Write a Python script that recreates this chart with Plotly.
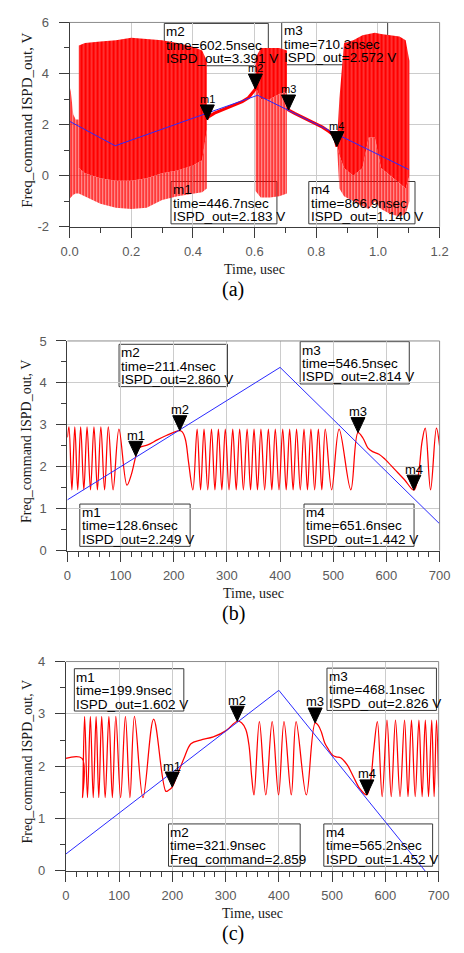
import plotly.graph_objects as go

W, H = 464, 953

# ---------------- panel (a): 0 .. 1.2 usec ----------------
a_cmd_t = [0.0, 0.148, 0.61, 1.10]
a_cmd_v = [2.13, 1.17, 3.15, 0.24]

# ISPD_out bursts: upper edge, edge of the solid part, lower edge of the spikes
a_s_t = [0.0, 0.004, 0.012, 0.02, 0.03]
a_s_hi = [3.5, 3.3, 2.4, 2.2, 2.2]
a_s_lo = [-0.9, -0.85, -0.75, -0.7, -0.7]

a_b1_t = [0.03, 0.05, 0.10, 0.15, 0.20, 0.25, 0.30, 0.35, 0.40, 0.43, 0.445]
a_b1_hi = [5.1, 5.2, 5.25, 5.3, 5.4, 5.35, 5.3, 5.2, 5.05, 4.9, 4.5]
a_b1_mid = [0.3, 0.1, -0.1, -0.2, -0.2, -0.1, 0.1, 0.2, 0.4, 0.6, 1.8]
a_b1_lo = [-0.7, -0.8, -1.1, -1.25, -1.3, -1.25, -0.95, -0.8, -0.7, -0.65, -0.5]

a_b2_t = [0.603, 0.62, 0.65, 0.68, 0.705]
a_b2_hi = [4.6, 5.0, 5.0, 5.0, 4.9]
a_b2_mid = [3.5, 3.0, 3.0, 3.2, 3.3]
a_b2_lo = [-0.6, -0.85, -0.85, -0.8, -0.7]

a_b3_t = [0.868, 0.875, 0.89, 0.92, 0.95, 0.97, 0.99, 1.01, 1.04, 1.07, 1.09, 1.102]
a_b3_hi = [1.5, 3.0, 5.2, 5.3, 5.5, 5.55, 5.6, 5.55, 5.5, 5.45, 5.3, 4.5]
a_b3_mid = [1.2, 0.8, 0.3, 0.0, 0.3, 1.5, 1.5, 0.3, 0.0, -0.3, -0.5, 0.0]
a_b3_lo = [1.0, -0.5, -0.8, -1.0, -1.2, -1.3, -1.0, -1.3, -1.5, -1.6, -1.5, -1.0]

# locked stretches of ISPD_out
a_l1_t = [0.445, 0.45, 0.47, 0.50, 0.53, 0.56, 0.58, 0.59, 0.60, 0.6025, 0.605]
a_l1_v = [2.2, 2.3, 2.45, 2.6, 2.75, 2.9, 3.05, 3.2, 3.35, 3.39, 3.5]
a_l2_t = [0.705, 0.7103, 0.73, 0.75, 0.78, 0.80, 0.82, 0.84, 0.855, 0.862, 0.8669]
a_l2_v = [2.65, 2.57, 2.44, 2.32, 2.15, 2.03, 1.9, 1.74, 1.6, 1.4, 1.14]

a_mk_name = ["m1", "m2", "m3", "m4"]
a_mk_t = [0.4467, 0.6025, 0.7103, 0.8669]
a_mk_v = [2.183, 3.391, 2.572, 1.140]
a_box_lines = [
    ["m1", "time=446.7nsec", "ISPD_out=2.183 V"],
    ["m2", "time=602.5nsec", "ISPD_out=3.391 V"],
    ["m3", "time=710.3nsec", "ISPD_out=2.572 V"],
    ["m4", "time=866.9nsec", "ISPD_out=1.140 V"],
]
a_xtick_v = [0.0, 0.2, 0.4, 0.6, 0.8, 1.0, 1.2]
a_xtick_t = ["0.0", "0.2", "0.4", "0.6", "0.8", "1.0", "1.2"]
a_ytick_v = [-2, 0, 2, 4, 6]
a_ytick_t = ["-2", "0", "2", "4", "6"]

# ---------------- panel (b): 0 .. 700 usec ----------------
b_cmd_t = [0, 400, 700]
b_cmd_v = [1.21, 4.37, 0.64]

b_isp_t = [0, 3, 8.5, 14, 19.5, 25, 31, 37, 43.5, 50, 56.5, 63, 70, 77, 86, 97, 112, 120,
           128.6, 133, 139, 151, 169, 187, 200, 211.4, 216, 222, 228, 236,
           244, 250.5, 257, 264, 271, 277.5, 284, 290.5, 297, 304, 311, 317.5, 324, 331,
           338, 344.5, 351, 357.5, 364, 371, 378, 384.5, 391, 398, 405, 411.5, 418, 424.5,
           431, 438, 445, 451.5, 458, 465, 472, 478.5, 485, 497, 511, 533,
           546.5, 556, 565, 574, 586, 598, 616, 634, 651.6, 660, 667, 673, 683, 694, 700]
b_isp_v = [2.7, 2.95, 1.45, 2.95, 1.45, 2.95, 1.45, 2.95, 1.45, 2.95, 1.45, 2.95, 1.45, 2.95,
           1.45, 2.9, 1.56, 1.8,
           2.249, 2.42, 2.48, 2.52, 2.64, 2.75, 2.82, 2.86, 2.83, 2.65, 2.1, 1.45,
           2.9, 1.45, 2.9, 1.45, 2.9, 1.45, 2.9, 1.45, 2.9, 1.45, 2.9, 1.45, 2.9, 1.45,
           2.9, 1.45, 2.9, 1.45, 2.9, 1.45, 2.9, 1.45, 2.9, 1.45, 2.9, 1.45, 2.9, 1.45,
           2.9, 1.45, 2.9, 1.45, 2.9, 1.45, 2.9, 1.45, 2.9, 1.45, 2.9, 1.45,
           2.814, 2.68, 2.45, 2.36, 2.3, 2.17, 1.93, 1.69, 1.442, 1.8, 2.6, 2.92, 1.45, 2.92, 2.5]

b_mk_name = ["m1", "m2", "m3", "m4"]
b_mk_t = [128.6, 211.4, 546.5, 651.6]
b_mk_v = [2.249, 2.860, 2.814, 1.442]
b_box_lines = [
    ["m1", "time=128.6nsec", "ISPD_out=2.249 V"],
    ["m2", "time=211.4nsec", "ISPD_out=2.860 V"],
    ["m3", "time=546.5nsec", "ISPD_out=2.814 V"],
    ["m4", "time=651.6nsec", "ISPD_out=1.442 V"],
]
bc_xtick_v = [0, 100, 200, 300, 400, 500, 600, 700]
bc_xtick_t = ["0", "100", "200", "300", "400", "500", "600", "700"]
b_ytick_v = [0, 1, 2, 3, 4, 5]
b_ytick_t = ["0", "1", "2", "3", "4", "5"]

# ---------------- panel (c): 0 .. 700 usec ----------------
c_cmd_t = [0, 400, 700]
c_cmd_v = [0.32, 3.45, -0.32]

c_isp_t = [0, 30.5, 31.5, 35.4, 40.8, 46.2, 51.6, 57, 62, 67.5, 74, 81, 87.5, 94, 103, 112,
           120.5, 129, 145, 165, 188, 193, 199.9, 208, 216, 222, 235, 253, 277, 301, 321.9,
           330, 338, 344, 349, 353.4, 363.5, 375.5, 387.5, 399.5, 409.7, 423.4, 432.4, 451.6,
           468.1, 474, 480, 486, 492, 501, 508, 516, 528, 540, 552, 565.2, 572, 578, 585,
           594, 603, 611, 619, 627.5, 636, 642.5, 649, 656, 663, 669, 675, 681, 687, 691.5,
           696, 700]
c_isp_v = [2.15, 2.15, 1.4, 2.95, 1.4, 2.95, 1.4, 2.95, 1.4, 2.95, 1.4, 2.95, 1.4, 2.95, 1.4,
           2.95, 1.4, 2.95, 1.4, 2.9, 1.52, 1.54, 1.602, 1.8, 2.0, 2.15, 2.43, 2.5, 2.56, 2.68,
           2.859, 2.83, 2.7, 2.4, 1.8, 1.45, 2.85, 1.45, 2.85, 1.45, 2.85, 1.45, 2.85, 1.45,
           2.826, 2.78, 2.65, 2.45, 2.34, 2.21, 2.18, 2.16, 2.03, 1.8, 1.57, 1.452, 1.7, 2.3,
           2.85, 1.42, 2.88, 1.42, 2.88, 1.42, 2.88, 1.42, 2.88, 1.42, 2.88, 1.42, 2.88, 1.42,
           2.88, 1.42, 2.88, 1.6]

c_mk_name = ["m1", "m2", "m3", "m4"]
c_mk_t = [199.9, 321.9, 468.1, 565.2]
c_mk_v = [1.602, 2.859, 2.826, 1.452]
c_box_lines = [
    ["m1", "time=199.9nsec", "ISPD_out=1.602 V"],
    ["m2", "time=321.9nsec", "Freq_command=2.859"],
    ["m3", "time=468.1nsec", "ISPD_out=2.826 V"],
    ["m4", "time=565.2nsec", "ISPD_out=1.452 V"],
]
c_ytick_v = [0, 1, 2, 3, 4]
c_ytick_t = ["0", "1", "2", "3", "4"]

captions = ["(a)", "(b)", "(c)"]
x_title = "Time, usec"
y_title = "Freq_command ISPD_out, V"

RED = "#ff0000"
BLUE = "#2a2aff"


def fx(px):
    return px / W


def fy(py):
    return 1 - py / H


fig = go.Figure()


def band(t, hi, lo, axes, dense):
    xs = list(t) + list(t)[::-1]
    ys = list(hi) + list(lo)[::-1]
    if dense:
        patt = dict(shape="|", size=4, solidity=0.15, fgcolor="#ffb4b4", bgcolor=RED, fgopacity=0.9)
    else:
        patt = dict(shape="|", size=3, solidity=0.65, fgcolor=RED, bgcolor="rgba(255,255,255,0)", fgopacity=1)
    fig.add_trace(go.Scatter(x=xs, y=ys, xaxis=axes[0], yaxis=axes[1], mode="lines",
                             fill="toself", fillcolor=RED if dense else "rgba(255,0,0,0)",
                             fillpattern=patt, line=dict(width=0), hoverinfo="skip",
                             showlegend=False))


# panel (a) traces
band(a_s_t, a_s_hi, a_s_lo, ("x", "y"), False)
band(a_b1_t, a_b1_mid, a_b1_lo, ("x", "y"), False)
band(a_b1_t, a_b1_hi, a_b1_mid, ("x", "y"), True)
band(a_b2_t, a_b2_mid, a_b2_lo, ("x", "y"), False)
band(a_b2_t, a_b2_hi, a_b2_mid, ("x", "y"), True)
band(a_b3_t, a_b3_mid, a_b3_lo, ("x", "y"), False)
band(a_b3_t, a_b3_hi, a_b3_mid, ("x", "y"), True)
for lt, lv in ((a_l1_t, a_l1_v), (a_l2_t, a_l2_v)):
    fig.add_trace(go.Scatter(x=lt, y=lv, xaxis="x", yaxis="y", mode="lines",
                             line=dict(color=RED, width=3), showlegend=False))
fig.add_trace(go.Scatter(x=a_cmd_t, y=a_cmd_v, xaxis="x", yaxis="y", mode="lines",
                         line=dict(color=BLUE, width=1), showlegend=False))

# panels (b) and (c)
for ax, it, iv, ct, cv in (("2", b_isp_t, b_isp_v, b_cmd_t, b_cmd_v),
                           ("3", c_isp_t, c_isp_v, c_cmd_t, c_cmd_v)):
    fig.add_trace(go.Scatter(x=it, y=iv, xaxis="x" + ax, yaxis="y" + ax, mode="lines",
                             line=dict(color=RED, width=1.25, shape="spline", smoothing=1.0),
                             showlegend=False))
    fig.add_trace(go.Scatter(x=ct, y=cv, xaxis="x" + ax, yaxis="y" + ax, mode="lines",
                             line=dict(color=BLUE, width=1), showlegend=False))

# plot frames in pixels: (left, right, top, bottom)
frames = [(63.3, 450.0, 15.7, 223.3), (61.0, 450.0, 339.3, 552.3), (59.3, 449.0, 665.0, 877.7)]
axis_names = [("xaxis", "yaxis", "x", "y"), ("xaxis2", "yaxis2", "x2", "y2"),
              ("xaxis3", "yaxis3", "x3", "y3")]
xranges = [[0, 1.2], [0, 700], [0, 700]]
yranges = [[-2, 6], [0, 5], [0, 4]]
xticks = [(a_xtick_v, a_xtick_t, 0.1), (bc_xtick_v, bc_xtick_t, 20), (bc_xtick_v, bc_xtick_t, 20)]
yticks = [(a_ytick_v, a_ytick_t, 1), (b_ytick_v, b_ytick_t, 0.5), (c_ytick_v, c_ytick_t, 0.5)]

tickfont = dict(family="Liberation Sans, Arial, sans-serif", size=13, color="#5a5a5a")
AXC = "#3c3c3c"
GRID = "#cccccc"

layout = dict(width=W, height=H, margin=dict(l=0, r=0, t=0, b=0),
              paper_bgcolor="white", plot_bgcolor="rgba(0,0,0,0)", showlegend=False)
shapes = []
annotations = []

for i, (l, r, t, b) in enumerate(frames):
    xn, yn, xr, yr = axis_names[i]
    xv, xt, xminor = xticks[i]
    yv, yt, yminor = yticks[i]
    layout[xn] = dict(domain=[fx(l), fx(r)], range=xranges[i], anchor=yr,
                      tickmode="array", tickvals=xv, ticktext=xt,
                      showgrid=True, gridcolor=GRID, gridwidth=1, zeroline=False,
                      showline=True, linecolor=AXC, linewidth=1,
                      ticks="outside", ticklen=10, tickcolor=AXC, tickwidth=1,
                      ticklabelstandoff=3, tickfont=tickfont,
                      minor=dict(dtick=xminor, tick0=0, ticks="outside", ticklen=5,
                                 tickcolor=AXC, showgrid=False))
    layout[yn] = dict(domain=[fy(b), fy(t)], range=yranges[i], anchor=xr,
                      tickmode="array", tickvals=yv, ticktext=yt,
                      showgrid=True, gridcolor=GRID, gridwidth=1, zeroline=False,
                      showline=True, linecolor=AXC, linewidth=1,
                      ticks="outside", ticklen=10, tickcolor=AXC, tickwidth=1,
                      ticklabelstandoff=7, tickfont=tickfont,
                      minor=dict(dtick=yminor, tick0=0, ticks="outside", ticklen=5,
                                 tickcolor=AXC, showgrid=False))
    # top and right edges of the frame
    shapes.append(dict(type="line", xref="paper", yref="paper", x0=fx(l), x1=fx(r),
                       y0=fy(t), y1=fy(t), line=dict(color="#8c8c8c", width=1)))
    shapes.append(dict(type="line", xref="paper", yref="paper", x0=fx(r), x1=fx(r),
                       y0=fy(t), y1=fy(b), line=dict(color="#8c8c8c", width=1)))
    # axis titles and caption
    annotations.append(dict(text=x_title, xref="paper", yref="paper", x=fx((l + r) / 2),
                            y=fy(b + 43.5), showarrow=False, xanchor="center", yanchor="middle",
                            font=dict(family="Liberation Serif, Times New Roman, serif",
                                      size=14, color="#1a1a1a")))
    annotations.append(dict(text=y_title, xref="paper", yref="paper", x=fx(19),
                            y=fy((t + b) / 2 - 4), textangle=-90, showarrow=False,
                            xanchor="center", yanchor="middle",
                            font=dict(family="Liberation Serif, Times New Roman, serif",
                                      size=15 if i == 0 else 14, color="#1a1a1a")))
    annotations.append(dict(text=captions[i], xref="paper", yref="paper", x=fx(234.5),
                            y=fy(b + 63.5), showarrow=False, xanchor="center", yanchor="middle",
                            font=dict(family="Liberation Serif, Times New Roman, serif",
                                      size=20, color="black")))

# markers: downward triangles with the tip on the value
marker_sets = [(a_mk_name, a_mk_t, a_mk_v, "x", "y", 11),
               (b_mk_name, b_mk_t, b_mk_v, "x2", "y2", 13),
               (c_mk_name, c_mk_t, c_mk_v, "x3", "y3", 13)]
for names, ts, vs, xr, yr, fs in marker_sets:
    for n, tt, vv in zip(names, ts, vs):
        shapes.append(dict(type="path", xref=xr, yref=yr, xsizemode="pixel", ysizemode="pixel",
                           xanchor=tt, yanchor=vv, path="M -7 15 L 7 15 L 0 0 Z",
                           fillcolor="black", line=dict(color="black", width=1), layer="above"))
        annotations.append(dict(text=n, x=tt, y=vv, xref=xr, yref=yr, showarrow=False,
                                yshift=21, xanchor="center", yanchor="middle", borderpad=0,
                                font=dict(family="Liberation Sans, Arial, sans-serif",
                                          size=fs, color="black")))

# readout boxes in pixels: (left, right, top) per marker, height 43
box_pos = [
    [(169.3, 280.0, 177.3), (162.3, 271.0, 16.7), (285.0, 395.7, 15.7), (313.3, 424.3, 177.3)],
    [(74.0, 189.3, 505.0), (115.0, 228.3, 342.7), (304.3, 418.3, 340.0), (308.3, 423.3, 505.0)],
    [(68.3, 182.7, 672.3), (166.7, 304.3, 830.0), (332.3, 446.7, 671.7), (329.0, 442.7, 830.0)],
]
box_lines = [a_box_lines, b_box_lines, c_box_lines]
for p in range(3):
    for (bl, br, bt), lines in zip(box_pos[p], box_lines[p]):
        shapes.append(dict(type="rect", xref="paper", yref="paper", x0=fx(bl), x1=fx(br),
                           y0=fy(bt), y1=fy(bt + 43), line=dict(color="#3a3a3a", width=1),
                           fillcolor="rgba(0,0,0,0)", layer="below"))
        for k, txt in enumerate(lines):
            annotations.append(dict(text=txt, xref="paper", yref="paper", x=fx(bl + 1),
                                    y=fy(bt + 8.5 + 13.7 * k), showarrow=False,
                                    xanchor="left", yanchor="middle", borderpad=0,
                                    font=dict(family="Liberation Sans, Arial, sans-serif",
                                              size=13.5, color="black")))

layout["shapes"] = shapes
layout["annotations"] = annotations
fig.update_layout(**layout)
fig.write_html("out.html")
